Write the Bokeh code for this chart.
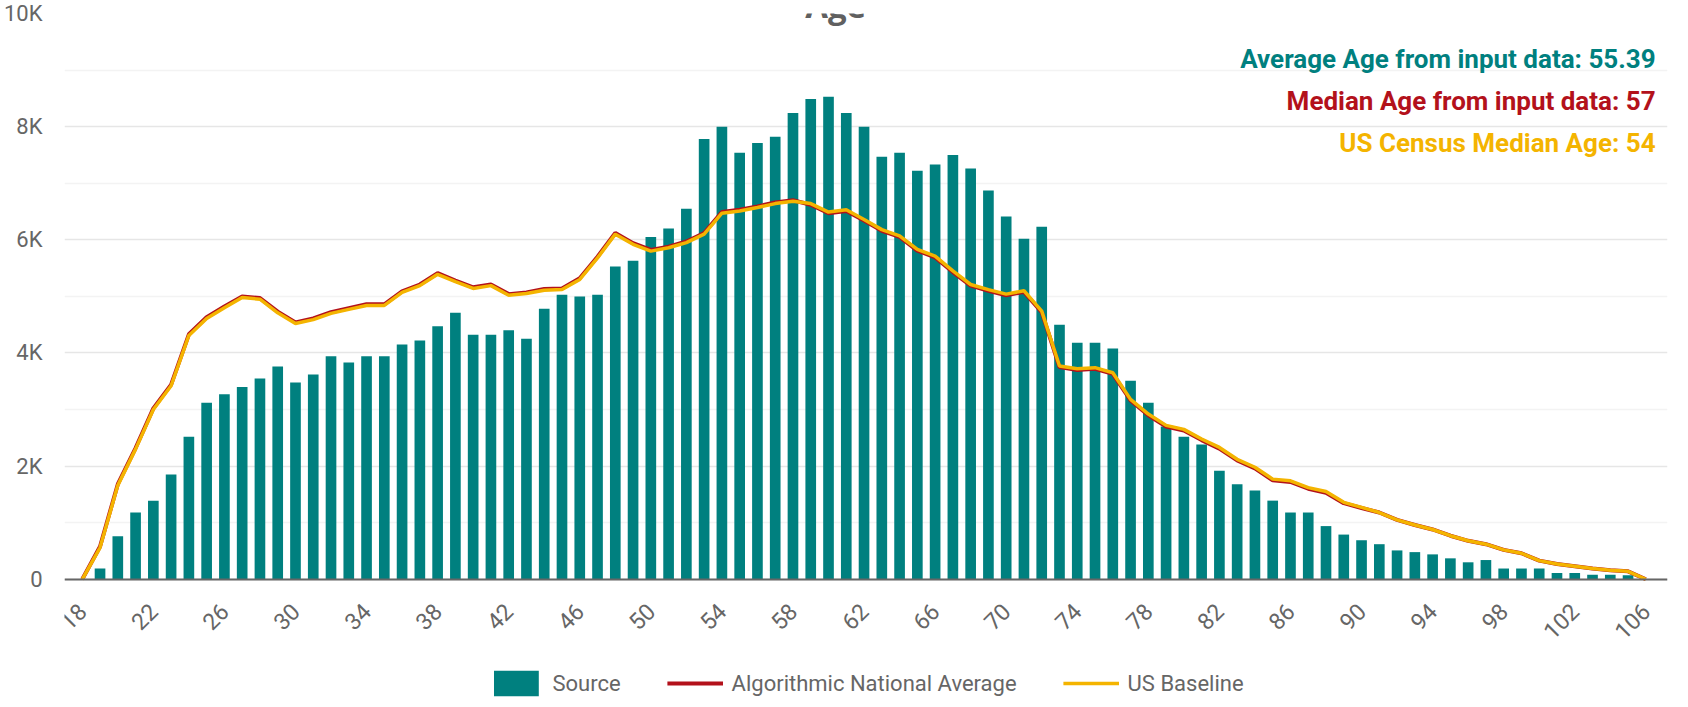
import math
from bokeh.plotting import figure
from bokeh.models import (ColumnDataSource, FixedTicker, Range1d, Label, Legend, LegendItem,
                          CustomJSTickFormatter)
from bokeh.embed import file_html
from bokeh.resources import INLINE

# ---------------- data ----------------
ages = list(range(18, 107))

source_counts = [
    0, 190, 760, 1180, 1390, 1850, 2520, 3120, 3270, 3400,          # 18-27
    3550, 3760, 3480, 3620, 3940, 3830, 3940, 3940, 4150, 4220,     # 28-37
    4470, 4710, 4320, 4320, 4400, 4250, 4780, 5030, 5000, 5030,     # 38-47
    5530, 5630, 6050, 6200, 6550, 7780, 8000, 7540, 7710, 7820,     # 48-57
    8240, 8490, 8530, 8240, 8000, 7470, 7540, 7220, 7330, 7500,     # 58-67
    7260, 6870, 6410, 6020, 6230, 4500, 4180, 4180, 4080, 3510,     # 68-77
    3120, 2700, 2520, 2380, 1920, 1680, 1570, 1390, 1180, 1180,     # 78-87
    940, 790, 690, 620, 510, 480, 440, 370, 300, 340,               # 88-97
    190, 190, 190, 110, 110, 80, 80, 70, 0,                         # 98-106
]

us_baseline = [
    0, 560, 1660, 2300, 3000, 3420, 4310, 4610, 4800, 4980,         # 18-27
    4950, 4710, 4520, 4590, 4700, 4770, 4840, 4840, 5070, 5190,     # 28-37
    5390, 5260, 5140, 5190, 5020, 5050, 5110, 5120, 5300, 5680,     # 38-47
    6100, 5920, 5800, 5860, 5950, 6100, 6470, 6510, 6570, 6640,     # 48-57
    6680, 6640, 6490, 6530, 6360, 6180, 6070, 5830, 5710, 5450,     # 58-67
    5210, 5120, 5040, 5100, 4740, 3770, 3720, 3740, 3650, 3180,     # 68-77
    2920, 2720, 2650, 2480, 2330, 2120, 1980, 1770, 1740, 1620,     # 78-87
    1550, 1360, 1270, 1180, 1050, 960, 880, 770, 680, 620,          # 88-97
    520, 460, 330, 270, 230, 190, 160, 140, 0,                      # 98-106
]

national_average = [
    0, 580, 1680, 2320, 3020, 3440, 4330, 4630, 4820, 5000,         # 18-27
    4970, 4730, 4540, 4610, 4720, 4790, 4860, 4860, 5090, 5210,     # 28-37
    5410, 5280, 5160, 5210, 5040, 5070, 5130, 5140, 5320, 5700,     # 38-47
    6120, 5940, 5820, 5880, 5970, 6120, 6490, 6530, 6590, 6660,     # 48-57
    6700, 6620, 6470, 6510, 6340, 6160, 6050, 5810, 5690, 5430,     # 58-67
    5190, 5100, 5020, 5080, 4720, 3750, 3700, 3720, 3630, 3160,     # 68-77
    2900, 2700, 2630, 2460, 2310, 2100, 1960, 1750, 1720, 1600,     # 78-87
    1530, 1345, 1260, 1180, 1050, 960, 880, 770, 680, 620,          # 88-97
    520, 460, 330, 270, 230, 190, 160, 140, 0,                      # 98-106
]

x_ticks = list(range(18, 107, 4))
y_ticks = [0, 2000, 4000, 6000, 8000, 10000]
y_minor = [1000, 3000, 5000, 7000, 9000]

title_text = "Age"
notes = [
    ("Average Age from input data: 55.39", "#00807F"),
    ("Median Age from input data: 57", "#B3111B"),
    ("US Census Median Age: 54", "#F4B400"),
]

# ---------------- style ----------------
FONT = "Roboto"
TEAL = "#00807F"
RED = "#B3111B"
ORANGE = "#F4B400"
GREY = "#666666"

src = ColumnDataSource(dict(age=ages, source=source_counts,
                            base=us_baseline, nat=national_average))

# the frame extends below zero so the x axis (fixed at 0) and the legend sit inside it
p = figure(width=1672, height=699,
           x_range=Range1d(17.0, 107.22), y_range=Range1d(-2125, 10000),
           output_backend="svg", toolbar_location=None,
           min_border_left=57, min_border_right=5, min_border_top=13,
           min_border_bottom=0)
p.outline_line_color = None
p.background_fill_color = "white"

bars = p.vbar(x="age", top="source", width=0.6, source=src,
              fill_color=TEAL, line_color=None)
l_red = p.line(x="age", y="nat", source=src, line_color=RED, line_width=4)
l_or = p.line(x="age", y="base", source=src, line_color=ORANGE, line_width=3.5)

# y axis
p.yaxis.ticker = FixedTicker(ticks=y_ticks, minor_ticks=y_minor)
p.yaxis.formatter = CustomJSTickFormatter(code="return tick == 0 ? '0' : (tick/1000) + 'K';")
p.yaxis.axis_line_color = None
p.yaxis.major_tick_line_color = None
p.yaxis.minor_tick_line_color = None
p.yaxis.major_label_text_font = FONT
p.yaxis.major_label_text_font_size = "22px"
p.yaxis.major_label_text_color = GREY
p.yaxis.major_label_standoff = 16

p.ygrid.grid_line_color = "#e6e6e6"
p.ygrid.grid_line_width = 1.5
p.ygrid.minor_grid_line_color = "#f3f3f3"
p.ygrid.minor_grid_line_width = 1.5
p.xgrid.grid_line_color = None

# x axis, drawn at y = 0
p.xaxis.fixed_location = 0
p.xaxis.ticker = FixedTicker(ticks=x_ticks)
p.xaxis.axis_line_color = GREY
p.xaxis.axis_line_width = 2
p.xaxis.major_tick_line_color = None
p.xaxis.minor_tick_line_color = None
p.xaxis.major_label_orientation = math.pi / 4
p.xaxis.major_label_text_font = FONT
p.xaxis.major_label_text_font_size = "23px"
p.xaxis.major_label_text_color = GREY
p.xaxis.major_label_standoff = 22

# clipped title at the very top
p.add_layout(Label(x=60.4, y=10150, text=title_text, text_align="center",
                   text_baseline="alphabetic", text_font="Open Sans",
                   text_font_style="bold", text_font_size="33px", text_color="#606060"))

# annotations top-right
ys = [9197, 8455, 7709]
for (txt, col), yy in zip(notes, ys):
    p.add_layout(Label(x=106.55, y=yy, text=txt, text_align="right",
                       text_baseline="alphabetic", text_font=FONT,
                       text_font_style="bold", text_font_size="26px", text_color=col))

legend = Legend(items=[
    LegendItem(label="Source", renderers=[bars]),
    LegendItem(label="Algorithmic National Average", renderers=[l_red]),
    LegendItem(label="US Baseline", renderers=[l_or]),
], orientation="horizontal", location="bottom_center")
legend.glyph_width = 56
legend.glyph_height = 32
legend.label_standoff = 9
legend.spacing = 46
legend.padding = 0
legend.margin = 0
legend.label_height = 32
legend.border_line_color = None
legend.background_fill_alpha = 0
legend.label_text_font = FONT
legend.label_text_font_size = "22px"
legend.label_text_color = GREY
p.add_layout(legend)

open("out.html", "w").write(file_html(p, INLINE))
